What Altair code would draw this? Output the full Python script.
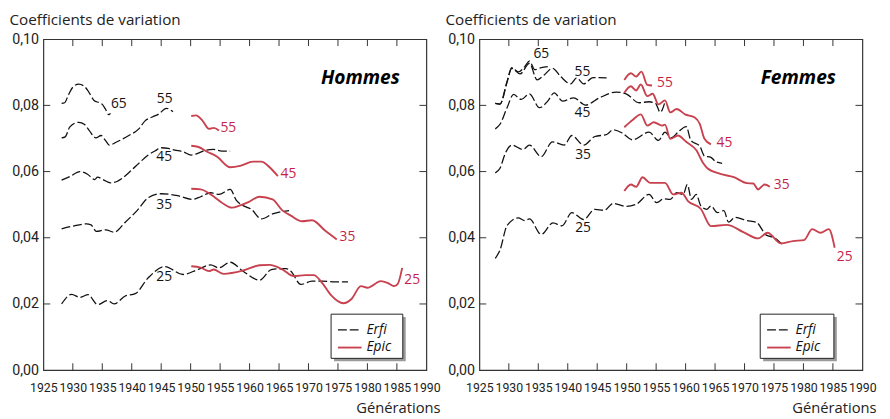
import altair as alt
import pandas as pd

# ---------------- data ----------------
# Hommes, Erfi (black dashed)
h_erfi_65_x = [1928.1, 1928.6, 1929.3, 1930.0, 1931.0, 1932.0, 1932.8, 1933.6, 1934.5, 1935.0, 1935.5, 1936.1, 1936.4]
h_erfi_65_y = [0.0806, 0.0808, 0.0833, 0.0855, 0.0864, 0.0857, 0.0838, 0.0815, 0.0808, 0.0803, 0.0790, 0.0772, 0.0776]
h_erfi_55_x = [1928.1, 1928.7, 1929.5, 1931.0, 1932.0, 1932.8, 1933.9, 1934.8, 1935.5, 1936.2, 1937.5, 1939.5, 1941.2, 1942.3, 1943.5, 1944.5, 1945.9, 1947.0]
h_erfi_55_y = [0.0702, 0.0705, 0.0735, 0.0749, 0.0742, 0.0724, 0.0702, 0.0709, 0.0695, 0.0680, 0.0690, 0.0709, 0.0729, 0.0754, 0.0765, 0.0773, 0.0791, 0.0781]
h_erfi_45_x = [1928.1, 1929.5, 1931.2, 1932.5, 1933.7, 1934.2, 1935.2, 1936.4, 1937.5, 1938.4, 1940.0, 1941.5, 1942.8, 1944.0, 1945.0, 1946.2, 1947.3, 1948.7, 1950.1, 1951.2, 1952.3, 1953.9, 1955.3, 1956.7]
h_erfi_45_y = [0.0574, 0.0585, 0.0600, 0.0592, 0.0576, 0.0583, 0.0575, 0.0566, 0.0570, 0.0580, 0.0605, 0.0630, 0.0650, 0.0663, 0.0672, 0.0670, 0.0665, 0.0660, 0.0650, 0.0655, 0.0663, 0.0667, 0.0662, 0.0662]
h_erfi_35_x = [1928.1, 1930.0, 1932.3, 1933.1, 1934.0, 1935.6, 1937.0, 1938.9, 1940.9, 1942.8, 1945.0, 1947.8, 1950.3, 1951.7, 1953.4, 1954.8, 1956.7, 1957.8, 1958.9, 1960.3, 1962.0, 1963.9, 1966.7]
h_erfi_35_y = [0.0427, 0.0435, 0.0442, 0.0439, 0.0419, 0.0424, 0.0417, 0.0447, 0.0482, 0.0521, 0.0533, 0.0527, 0.0516, 0.0524, 0.0536, 0.0531, 0.0546, 0.0512, 0.0497, 0.0486, 0.0457, 0.0472, 0.0482]
h_erfi_25_x = [1928.1, 1929.8, 1931.2, 1932.6, 1934.2, 1935.9, 1937.0, 1938.9, 1940.6, 1942.8, 1945.6, 1948.7, 1951.2, 1953.4, 1954.8, 1956.7, 1958.9, 1961.7, 1963.7, 1966.2, 1967.0, 1968.7, 1970.6, 1972.3, 1974.5, 1976.7]
h_erfi_25_y = [0.0200, 0.0229, 0.0220, 0.0228, 0.0198, 0.0210, 0.0200, 0.0224, 0.0231, 0.0279, 0.0313, 0.0289, 0.0304, 0.0318, 0.0309, 0.0326, 0.0299, 0.0272, 0.0304, 0.0307, 0.0299, 0.0259, 0.0269, 0.0269, 0.0267, 0.0267]

# Hommes, Epic (red)
h_epic_55_x = [1950.1, 1950.9, 1952.0, 1953.1, 1953.9, 1954.8]
h_epic_55_y = [0.0768, 0.0770, 0.0754, 0.0729, 0.0732, 0.0724]
h_epic_45_x = [1950.1, 1951.2, 1952.8, 1954.5, 1956.7, 1958.4, 1960.6, 1962.0, 1963.4, 1964.8]
h_epic_45_y = [0.0678, 0.0675, 0.0660, 0.0645, 0.0613, 0.0617, 0.0630, 0.0630, 0.0613, 0.0586]
h_epic_35_x = [1950.1, 1951.7, 1953.4, 1955.3, 1957.0, 1958.4, 1959.8, 1961.7, 1963.9, 1965.6, 1967.0, 1968.9, 1970.6, 1972.8, 1974.8]
h_epic_35_y = [0.0548, 0.0546, 0.0531, 0.0506, 0.0491, 0.0498, 0.0508, 0.0524, 0.0516, 0.0482, 0.0467, 0.0450, 0.0453, 0.0422, 0.0395]
h_epic_25_x = [1950.1, 1951.7, 1953.1, 1953.9, 1955.6, 1958.9, 1961.7, 1963.4, 1965.6, 1967.5, 1969.5, 1970.9, 1972.3, 1973.9, 1975.9, 1977.3, 1978.9, 1980.0, 1982.3, 1983.4, 1984.5, 1985.1, 1985.9]
h_epic_25_y = [0.0314, 0.0310, 0.0299, 0.0304, 0.0291, 0.0301, 0.0317, 0.0318, 0.0304, 0.0284, 0.0287, 0.0287, 0.0264, 0.0225, 0.0202, 0.0215, 0.0254, 0.0249, 0.0269, 0.0264, 0.0254, 0.0259, 0.0309]

# Femmes, Erfi (black dashed)
f_erfi_65_x = [1927.7, 1928.5, 1929.7, 1930.5, 1931.6, 1932.7, 1933.5, 1934.4, 1935.5, 1936.6]
f_erfi_65_y = [0.0806, 0.0804, 0.0872, 0.0914, 0.0901, 0.0917, 0.0934, 0.0908, 0.0914, 0.0917]
f_erfi_55_x = [1927.7, 1928.5, 1929.7, 1930.5, 1931.9, 1933.5, 1934.8, 1936.0, 1937.4, 1938.8, 1940.5, 1941.5, 1942.7, 1944.3, 1946.6]
f_erfi_55_y = [0.0806, 0.0804, 0.0870, 0.0912, 0.0895, 0.0927, 0.0877, 0.0892, 0.0912, 0.0887, 0.0865, 0.0883, 0.0865, 0.0884, 0.0883]
f_erfi_45_x = [1927.7, 1928.5, 1929.7, 1930.8, 1932.1, 1933.5, 1935.2, 1936.6, 1937.7, 1939.1, 1941.0, 1943.0, 1945.4, 1948.2, 1949.9, 1952.1, 1953.8, 1954.9, 1955.7, 1956.5]
f_erfi_45_y = [0.0729, 0.0743, 0.0793, 0.0833, 0.0818, 0.0835, 0.0793, 0.0813, 0.0838, 0.0813, 0.0823, 0.0801, 0.0823, 0.0840, 0.0835, 0.0808, 0.0811, 0.0806, 0.0779, 0.0811]
f_erfi_35_x = [1927.7, 1928.5, 1929.4, 1930.5, 1932.4, 1933.5, 1935.5, 1937.4, 1939.4, 1940.7, 1942.7, 1944.6, 1946.6, 1947.7, 1949.3, 1951.0, 1953.8, 1955.4, 1956.5, 1957.6, 1958.7, 1960.1, 1960.9, 1962.4, 1963.2, 1964.3, 1965.1, 1966.2]
f_erfi_35_y = [0.0596, 0.0610, 0.0655, 0.0680, 0.0667, 0.0680, 0.0645, 0.0690, 0.0680, 0.0709, 0.0680, 0.0706, 0.0712, 0.0726, 0.0716, 0.0696, 0.0719, 0.0694, 0.0719, 0.0702, 0.0719, 0.0736, 0.0694, 0.0677, 0.0647, 0.0643, 0.0630, 0.0625]
f_erfi_25_x = [1927.7, 1928.5, 1929.7, 1931.6, 1932.7, 1933.5, 1935.5, 1937.5, 1939.0, 1940.7, 1942.7, 1944.6, 1946.2, 1947.7, 1949.9, 1951.6, 1953.8, 1955.1, 1956.3, 1957.4, 1958.5, 1959.6, 1960.3, 1961.0, 1961.8, 1962.6, 1963.6, 1964.3, 1965.4, 1966.5, 1967.3, 1968.4, 1970.4, 1972.0, 1973.7, 1975.1, 1976.4]
f_erfi_25_y = [0.0338, 0.0363, 0.0437, 0.0460, 0.0452, 0.0457, 0.0410, 0.0445, 0.0436, 0.0476, 0.0455, 0.0486, 0.0483, 0.0504, 0.0495, 0.0501, 0.0531, 0.0506, 0.0518, 0.0516, 0.0536, 0.0531, 0.0561, 0.0516, 0.0531, 0.0496, 0.0486, 0.0496, 0.0476, 0.0482, 0.0447, 0.0462, 0.0452, 0.0447, 0.0408, 0.0400, 0.0380]

# Femmes, Epic (red)
f_epic_55_x = [1949.6, 1950.7, 1951.6, 1952.5, 1953.5, 1954.3]
f_epic_55_y = [0.0877, 0.0897, 0.0887, 0.0902, 0.0862, 0.0860]
f_epic_45_x = [1949.6, 1950.7, 1951.6, 1952.4, 1953.5, 1954.4, 1955.4, 1956.5, 1957.4, 1958.5, 1959.9, 1961.5, 1962.4, 1963.2, 1964.3]
f_epic_45_y = [0.0838, 0.0858, 0.0845, 0.0863, 0.0828, 0.0835, 0.0803, 0.0815, 0.0779, 0.0789, 0.0773, 0.0764, 0.0744, 0.0699, 0.0682]
f_epic_35_x = [1949.6, 1951.0, 1952.4, 1953.5, 1954.6, 1956.0, 1956.5, 1957.4, 1958.7, 1960.1, 1961.8, 1963.0, 1963.7, 1965.9, 1968.2, 1970.4, 1971.5, 1972.3, 1973.4, 1974.3]
f_epic_35_y = [0.0734, 0.0756, 0.0773, 0.0739, 0.0749, 0.0739, 0.0742, 0.0699, 0.0709, 0.0690, 0.0665, 0.0625, 0.0610, 0.0593, 0.0583, 0.0565, 0.0564, 0.0546, 0.0561, 0.0554]
f_epic_25_x = [1949.6, 1950.7, 1951.6, 1952.7, 1954.0, 1956.5, 1957.9, 1959.3, 1960.4, 1962.6, 1964.3, 1967.0, 1969.8, 1972.3, 1973.9, 1976.2, 1978.2, 1980.1, 1981.5, 1982.9, 1984.3, 1985.3]
f_epic_25_y = [0.0541, 0.0561, 0.0554, 0.0583, 0.0566, 0.0566, 0.0531, 0.0536, 0.0511, 0.0487, 0.0435, 0.0439, 0.0417, 0.0398, 0.0415, 0.0383, 0.0390, 0.0393, 0.0426, 0.0415, 0.0426, 0.0370]

# Age labels: text, year, value, source
h_label_text = ["65", "55", "55", "45", "45", "35", "35", "25", "25"]
h_label_x = [1937.8, 1945.6, 1956.4, 1945.5, 1966.6, 1945.5, 1976.6, 1945.5, 1987.6]
h_label_y = [0.0803, 0.0818, 0.0731, 0.0645, 0.0591, 0.0499, 0.0403, 0.0281, 0.0271]
h_label_src = ["Erfi", "Erfi", "Epic", "Erfi", "Epic", "Erfi", "Epic", "Erfi", "Epic"]

f_label_text = ["65", "55", "55", "45", "45", "35", "35", "25", "25"]
f_label_x = [1935.5, 1942.5, 1956.5, 1942.5, 1966.6, 1942.6, 1976.3, 1942.6, 1987.0]
f_label_y = [0.0956, 0.0900, 0.0867, 0.0778, 0.0686, 0.0650, 0.0558, 0.0429, 0.0343]
f_label_src = ["Erfi", "Erfi", "Epic", "Erfi", "Epic", "Erfi", "Epic", "Erfi", "Epic"]

x_ticks = list(range(1925, 1991, 5))
y_ticks = [0.0, 0.02, 0.04, 0.06, 0.08, 0.10]
inner_x_ticks = x_ticks[1:-1]
inner_y_ticks = y_ticks[1:-1]

# ---------------- styles ----------------
W, H = 390, 337
RED = "#c8414e"
RED_TXT = "#c41e4a"
BLACK = "#111111"
FONT = "Open Sans"
TICK_FONT = "Roboto"

xscale = alt.Scale(domain=[1925, 1990], nice=False, zero=False)
yscale = alt.Scale(domain=[0, 0.10], nice=False, zero=True)

x_axis = alt.Axis(
    values=x_ticks, format="d", title="Générations", titleX=W + 14, titleY=31,
    titleAlign="right", titleBaseline="top", titleFont=FONT, titleFontSize=15,
    titleFontWeight="normal", titleColor="#222", labelFont=TICK_FONT, labelFontSize=12.5,
    labelPadding=12, labelColor="#222", ticks=False, domain=False, grid=False,
    labelFlush=False, labelOverlap=False)
y_axis = alt.Axis(
    values=y_ticks, labelExpr="replace(format(datum.value, '.2f'), '.', ',')",
    title="Coefficients de variation", titleAngle=0, titleX=-35, titleY=-27,
    titleAlign="left", titleBaseline="top", titleFont=FONT, titleFontSize=15.5,
    titleFontWeight="normal", titleColor="#222", labelFont=TICK_FONT, labelFontSize=14.5,
    labelPadding=5, labelColor="#222", ticks=False, domain=False, grid=False,
    labelFlush=False, labelOverlap=False)

XE = alt.X("year:Q", scale=xscale, axis=x_axis, title="Générations")
YE = alt.Y("value:Q", scale=yscale, axis=y_axis, title="Coefficients de variation")


def lines_df(prefix):
    g = globals()
    rows = []
    for src in ["erfi", "epic"]:
        for age in ["65", "55", "45", "35", "25"]:
            kx = f"{prefix}_{src}_{age}_x"
            ky = f"{prefix}_{src}_{age}_y"
            if kx in g:
                for xv, yv in zip(g[kx], g[ky]):
                    rows.append({"year": xv, "value": yv, "src": src, "age": age})
    return pd.DataFrame(rows)


def panel(prefix, name, ltext, lx, ly, lsrc, lx0, lx1):
    df = lines_df(prefix)

    erfi = alt.Chart(df[df.src == "erfi"]).mark_line(
        color=BLACK, strokeDash=[9, 3], strokeWidth=1.3, interpolate="monotone"
    ).encode(x=XE, y=YE, detail="age:N")
    epic = alt.Chart(df[df.src == "epic"]).mark_line(
        color=RED, strokeWidth=1.9, interpolate="monotone"
    ).encode(x=XE, y=YE, detail="age:N")

    lab = pd.DataFrame({"text": ltext, "year": lx, "value": ly,
                        "c": [BLACK if s == "Erfi" else RED_TXT for s in lsrc]})
    labels = alt.Chart(lab).mark_text(font=FONT, fontSize=14, align="center",
                                       baseline="middle").encode(
        x=XE, y=YE, text="text:N", color=alt.Color("c:N", scale=None))

    ttl = alt.Chart(pd.DataFrame({"t": [name]})).mark_text(
        font=FONT, fontSize=19.5, fontWeight="bold", fontStyle="italic", align="right",
        baseline="middle", color="#000").encode(
        text="t:N", x=alt.value(363), y=alt.value(40))

    txdf = pd.DataFrame({"year": inner_x_ticks})
    tydf = pd.DataFrame({"value": inner_y_ticks})
    tcol = "#333"
    tb = alt.Chart(txdf).mark_rule(color=tcol, strokeWidth=1).encode(
        x=XE, y=alt.value(H), y2=alt.value(H - 7))
    tt = alt.Chart(txdf).mark_rule(color=tcol, strokeWidth=1).encode(
        x=XE, y=alt.value(0), y2=alt.value(7))
    tl = alt.Chart(tydf).mark_rule(color=tcol, strokeWidth=1).encode(
        y=YE, x=alt.value(0), x2=alt.value(7))
    tr = alt.Chart(tydf).mark_rule(color=tcol, strokeWidth=1).encode(
        y=YE, x=alt.value(W - 7), x2=alt.value(W))

    one = pd.DataFrame({"k": [0]})
    ly0, ly1 = 280, 325
    shadow = alt.Chart(one).mark_rect(fill="#9a9a9a").encode(
        x=alt.value(lx0 + 3), x2=alt.value(lx1 + 3), y=alt.value(ly0 + 3), y2=alt.value(ly1 + 3))
    box = alt.Chart(one).mark_rect(fill="white", stroke="#222", strokeWidth=1).encode(
        x=alt.value(lx0), x2=alt.value(lx1), y=alt.value(ly0), y2=alt.value(ly1))
    leg_erfi = alt.Chart(one).mark_rule(color=BLACK, strokeDash=[9, 3], strokeWidth=1.3).encode(
        x=alt.value(lx0 + 7), x2=alt.value(lx0 + 31), y=alt.value(ly0 + 16))
    leg_epic = alt.Chart(one).mark_rule(color=RED, strokeWidth=1.9).encode(
        x=alt.value(lx0 + 7), x2=alt.value(lx0 + 31), y=alt.value(ly0 + 34))
    txt_erfi = alt.Chart(one).mark_text(font=FONT, fontSize=14, fontStyle="italic",
                                         align="left", baseline="middle", color="#111").encode(
        text=alt.value("Erfi"), x=alt.value(lx0 + 36), y=alt.value(ly0 + 16))
    txt_epic = alt.Chart(one).mark_text(font=FONT, fontSize=14, fontStyle="italic",
                                         align="left", baseline="middle", color="#111").encode(
        text=alt.value("Epic"), x=alt.value(lx0 + 36), y=alt.value(ly0 + 34))

    return alt.layer(erfi, epic, labels, ttl, tb, tt, tl, tr, shadow, box,
                     leg_erfi, leg_epic, txt_erfi, txt_epic).properties(width=W, height=H)


left = panel("h", "Hommes", h_label_text, h_label_x, h_label_y, h_label_src, 293, 366)
right = panel("f", "Femmes", f_label_text, f_label_x, f_label_y, f_label_src, 286, 361)

chart = alt.hconcat(left, right, spacing=54, bounds="flush").properties(
    padding={"left": 0, "top": 0, "right": 5, "bottom": 0},
    background="white",
).configure_view(stroke="#333", strokeWidth=1.2)

chart.save("out.html", embed_options={"renderer": "svg", "actions": False})
